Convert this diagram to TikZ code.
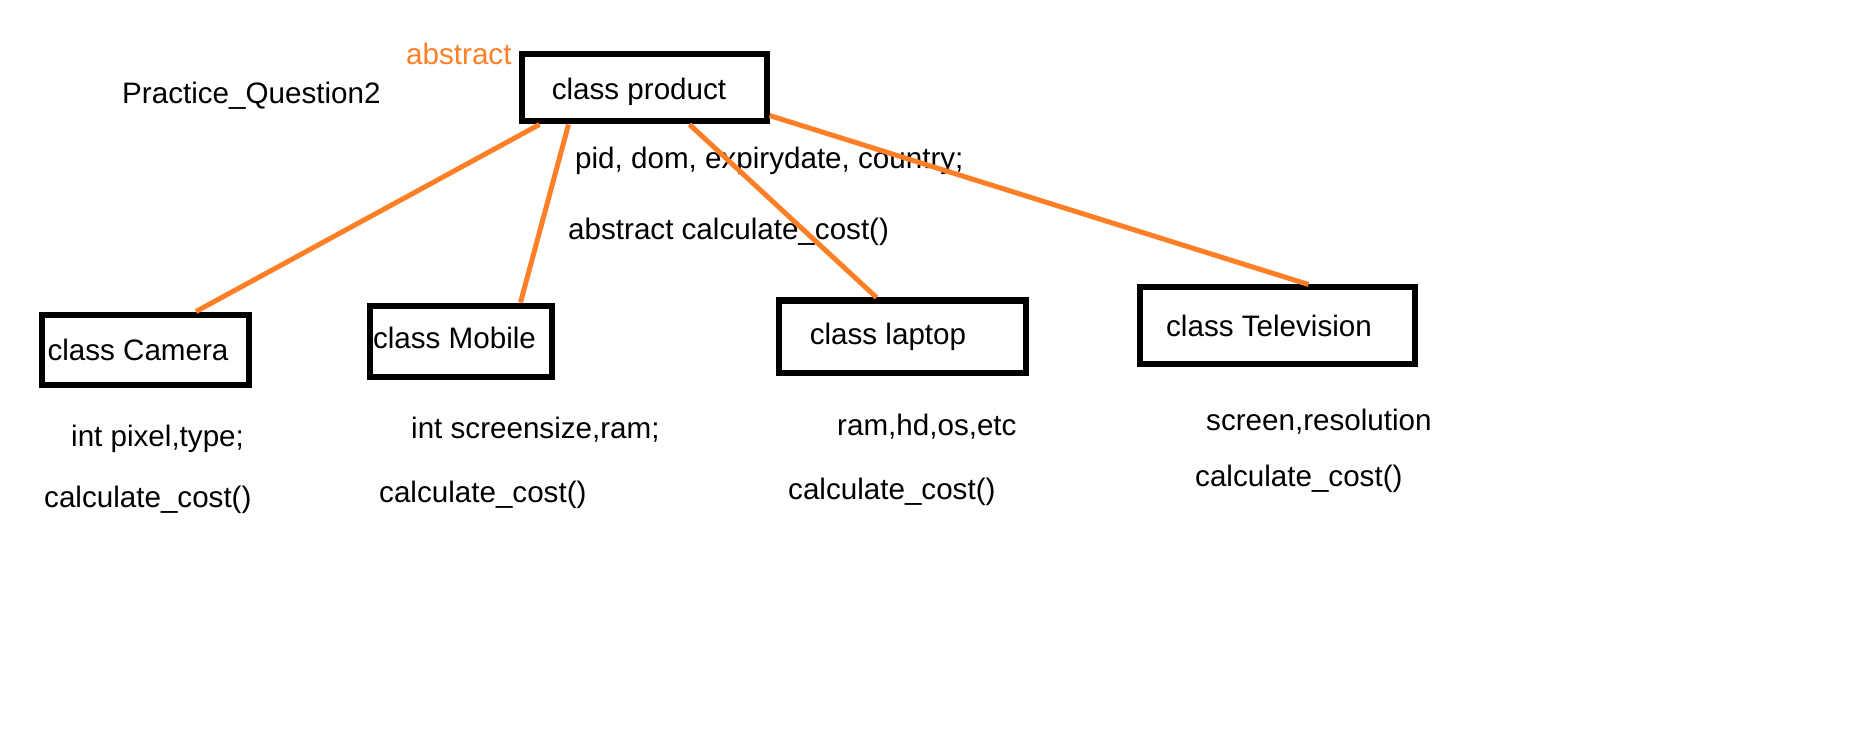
\documentclass[tikz,border=0pt]{standalone}
\usepackage{fontspec}
\setmainfont{Liberation Sans}
\usepackage{xcolor}
\usetikzlibrary{positioning}
\definecolor{paintorange}{RGB}{255,127,39}

\begin{document}
\begin{tikzpicture}[x=1pt,y=-1pt,font=\fontsize{29.6}{36}\selectfont]
		\tikzset{box/.style={draw=black,line width=6pt,inner sep=0pt},
			lbl/.style={anchor=west,inner sep=0pt},
			link/.style={draw=paintorange,line width=5pt}}
		\useasboundingbox (0,0) rectangle (1852,743);
		% class boxes
		\node[box,minimum width=245pt,minimum height=67pt]    (product) at (644,88)      {\raisebox{-4pt}[\height][\depth]{class product}\kern10pt};
		\node[box,minimum width=207pt,minimum height=70pt]    (camera) at (145,349.5)    {class Camera\kern14pt};
		\node[box,minimum width=182pt,minimum height=71pt]    (mobile) at (460.5,341)    {\raisebox{3pt}[\height][\depth]{class Mobile}\kern12pt};
		\node[box,minimum width=247pt,minimum height=72pt]    (laptop) at (902,336.5)    {class laptop\kern28pt};
		\node[box,minimum width=275pt,minimum height=76pt]    (tv) at (1277,325.5)       {class Television\kern16pt};
		% texts
		\node[lbl,text=paintorange]    (abs) at (406,54)      {abstract};
		\node[lbl]    (title) at (122,96)     {Practice\_Question2};
		\node[lbl]    (pfields) at (575,161)  {pid, dom, expirydate, country;};
		\node[lbl]    (pcost) at (568,232)    {abstract calculate\_cost()};
		\node[lbl]    (cfields) at (71,439)   {int pixel,type;};
		\node[lbl]    (ccost) at (44,500)     {calculate\_cost()};
		\node[lbl]    (mfields) at (411,430)  {int screensize,ram;};
		\node[lbl]    (mcost) at (379,495)    {calculate\_cost()};
		\node[lbl]    (lfields) at (837,427)  {ram,hd,os,etc};
		\node[lbl]    (lcost) at (788,492)    {calculate\_cost()};
		\node[lbl]    (tfields) at (1206,422) {screen,resolution};
		\node[lbl]    (tcost) at (1195,479)   {calculate\_cost()};
		% links
		\path[link]
		([xshift=21pt]product.south west) edge ([xshift=51pt]camera.north)
		([xshift=50pt]product.south west) edge ([xshift=-34pt]mobile.north east)
		([xshift=171pt]product.south west) edge ([xshift=101pt]laptop.north west)
		([yshift=9pt]product.south east) edge ([xshift=172pt]tv.north west);
	\end{tikzpicture}
\end{document}
